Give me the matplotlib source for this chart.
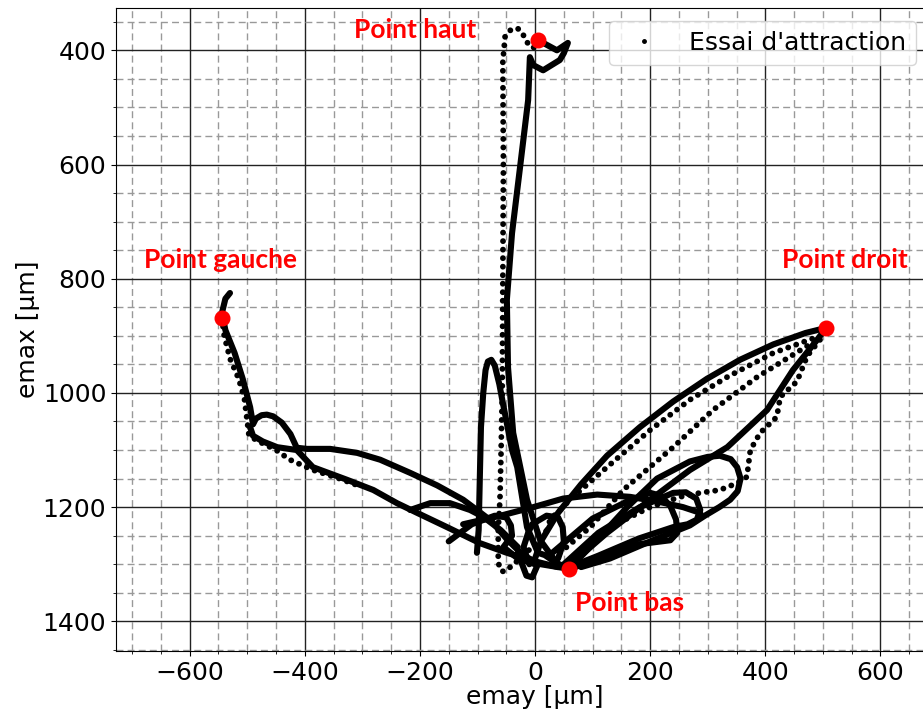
import matplotlib
matplotlib.use("Agg")
import matplotlib.pyplot as plt
from matplotlib.ticker import MultipleLocator

# --- trajectory strands (emay, emax) in µm ---
# dense strands (many overlapping passes)
left_arm_x = [-530, -538, -544, -538, -522, -508, -495, -490, -485, -475, -466, -455, -440, -425, -414, -396, -356, -309, -269, -217, -170, -125, -101, -75, -50, -20, 10, 40]
left_arm_y = [825, 835, 860, 890, 930, 975, 1025, 1055, 1045, 1039, 1038, 1041, 1052, 1072, 1096, 1098, 1098, 1105, 1117, 1140, 1162, 1187, 1205, 1225, 1255, 1285, 1300, 1305]

low_band_x = [-495, -490, -473, -448, -414, -386, -327, -281, -240, -205, -153, -96, -49, 0, 40, 59]
low_band_y = [1060, 1075, 1085, 1095, 1100, 1130, 1152, 1170, 1193, 1210, 1235, 1263, 1280, 1295, 1305, 1308]

branch_x = [-217, -182, -148, -113, -90, -60, -30]
branch_y = [1205, 1193, 1193, 1205, 1217, 1240, 1270]

top_x = [5, 38, 57, 50, 43, 14, -3, -9, -12, -26, -40, -49, -47, -38, -14, 9, 38, 59]
top_y = [382, 400, 387, 405, 417, 435, 426, 412, 487, 604, 720, 837, 955, 1070, 1187, 1258, 1298, 1308]

peak_x = [-101, -98, -96, -94, -90, -86, -82, -76, -70, -62, -57, -40, -31, -14, 5, 17, 40]
peak_y = [1280, 1240, 1150, 1060, 1000, 960, 945, 942, 952, 985, 1012, 1100, 1130, 1235, 1280, 1284, 1300]

right_x = [56, 125, 200, 269, 334, 403, 448, 490, 506]
right_y = [1305, 1245, 1187, 1135, 1095, 1030, 960, 907, 886]

arc_up_x = [0, 10, 40, 80, 125, 182, 240, 299, 356, 414, 470, 506]
arc_up_y = [1290, 1260, 1210, 1160, 1110, 1060, 1015, 975, 942, 915, 895, 886]

big_loop_x = [59, 110, 160, 212, 269, 300, 321, 340, 351, 357, 352, 339, 320, 295, 269, 200, 130, 80]
big_loop_y = [1308, 1255, 1200, 1150, 1120, 1112, 1110, 1116, 1130, 1150, 1172, 1187, 1200, 1215, 1232, 1260, 1290, 1305]

mid_loop_x = [50, 110, 182, 240, 262, 280, 287, 281, 265, 240, 180, 110, 60]
mid_loop_y = [1300, 1245, 1200, 1175, 1174, 1185, 1205, 1222, 1230, 1235, 1255, 1285, 1305]

small_loop_x = [30, 100, 160, 200, 218, 235, 245, 247, 235, 180, 120, 70]
small_loop_y = [1280, 1220, 1190, 1175, 1180, 1198, 1222, 1245, 1258, 1265, 1285, 1305]

flat_arc_x = [-125, -60, -3, 49, 108, 165, 212, 257, 287]
flat_arc_y = [1230, 1215, 1200, 1185, 1178, 1182, 1190, 1200, 1210]

c_loop1_x = [-150, -110, -70, -50, -42, -40, -55, -30, 0]
c_loop1_y = [1260, 1230, 1215, 1218, 1232, 1250, 1270, 1290, 1300]

c_loop2_x = [-10, -20, -12, -5, 20, 40, 48, 50, 40]
c_loop2_y = [1300, 1270, 1245, 1230, 1215, 1218, 1235, 1260, 1290]

dip_x = [-30, -15, -5, 5]
dip_y = [1280, 1320, 1323, 1300]

# sparse dotted strands
left_dot_x = [-544, -540, -530, -515, -505, -500, -497, -480, -450, -426, -386, -340, -300]
left_dot_y = [869, 900, 940, 975, 1010, 1050, 1075, 1085, 1100, 1117, 1135, 1150, 1165]

vert_dot_x = [5, -3, -14, -23, -31, -43, -52, -56, -55, -56, -57, -59, -61, -64, -64, -62, -55, -43, -26, 0, 21]
vert_dot_y = [382, 396, 386, 368, 361, 365, 375, 420, 600, 800, 1000, 1100, 1187, 1240, 1290, 1308, 1313, 1305, 1290, 1265, 1240]

dot_r1_x = [21, 26, 66, 125, 200, 269, 334, 414, 490]
dot_r1_y = [1240, 1222, 1182, 1130, 1065, 1012, 972, 930, 902]

dot_r2_x = [43, 96, 153, 240, 309, 386, 490]
dot_r2_y = [1280, 1235, 1170, 1095, 1030, 972, 907]

wavy_x = [495, 473, 455, 426, 420, 391, 374, 368, 351, 321, 287, 252, 200, 150, 100, 60]
wavy_y = [907, 935, 980, 1007, 1042, 1070, 1100, 1147, 1158, 1170, 1175, 1182, 1200, 1225, 1260, 1300]

dense_strands = [
    (left_arm_x, left_arm_y), (low_band_x, low_band_y), (branch_x, branch_y),
    (top_x, top_y), (peak_x, peak_y), (right_x, right_y), (arc_up_x, arc_up_y),
    (big_loop_x, big_loop_y), (mid_loop_x, mid_loop_y), (small_loop_x, small_loop_y),
    (flat_arc_x, flat_arc_y), (c_loop1_x, c_loop1_y), (c_loop2_x, c_loop2_y), (dip_x, dip_y),
]
dotted_strands = [
    (left_dot_x, left_dot_y), (vert_dot_x, vert_dot_y), (dot_r1_x, dot_r1_y),
    (dot_r2_x, dot_r2_y), (wavy_x, wavy_y),
]

# remarkable points
point_names = ['Point haut', 'Point gauche', 'Point droit', 'Point bas']
point_x = [5, -544, 506, 59]
point_y = [382, 869, 886, 1308]
label_x = [-209, -546, 539, 165]
label_y = [365, 767, 767, 1368]

fig = plt.figure(figsize=(9.23, 7.2), dpi=100)
ax = fig.add_axes([0.1257, 0.0958, 0.908, 0.893])

for sx, sy in dense_strands:
    ax.plot(sx, sy, color='black', lw=4.4, solid_capstyle='round',
            solid_joinstyle='round', zorder=3)
for sx, sy in dotted_strands:
    ax.plot(sx, sy, color='black', lw=4.2, ls=(0, (0.01, 1.45)),
            dash_capstyle='round', zorder=3)

# legend proxy
ax.plot([], [], 'k.', ms=5, label="Essai d'attraction")

ax.plot(point_x, point_y, 'o', color='red', ms=10.5, zorder=5)
for name, tx, ty in zip(point_names, label_x, label_y):
    ax.text(tx, ty, name, color='red', fontsize=19, fontweight='bold',
            family='Lato', ha='center', va='center', zorder=6)

ax.set_xlim(-728, 728)
ax.set_ylim(1452, 326)
ax.xaxis.set_major_locator(MultipleLocator(200))
ax.xaxis.set_minor_locator(MultipleLocator(50))
ax.yaxis.set_major_locator(MultipleLocator(200))
ax.yaxis.set_minor_locator(MultipleLocator(50))
ax.grid(which='major', color='#222222', lw=1.0, ls='-', zorder=1)
ax.grid(which='minor', color='#999999', lw=1.0, ls=(0, (5, 3)), zorder=0)
ax.set_axisbelow(True)
ax.tick_params(labelsize=18)
ax.spines['right'].set_visible(False)

ax.set_xlabel('emay [µm]', fontsize=18, labelpad=0)
ax.set_ylabel('emax [µm]', fontsize=18, labelpad=2)
ax.legend(loc='upper right', bbox_to_anchor=(0.955, 0.98), fontsize=18,
          handletextpad=0.8, borderaxespad=0)

fig.savefig('out.png', dpi=100)
